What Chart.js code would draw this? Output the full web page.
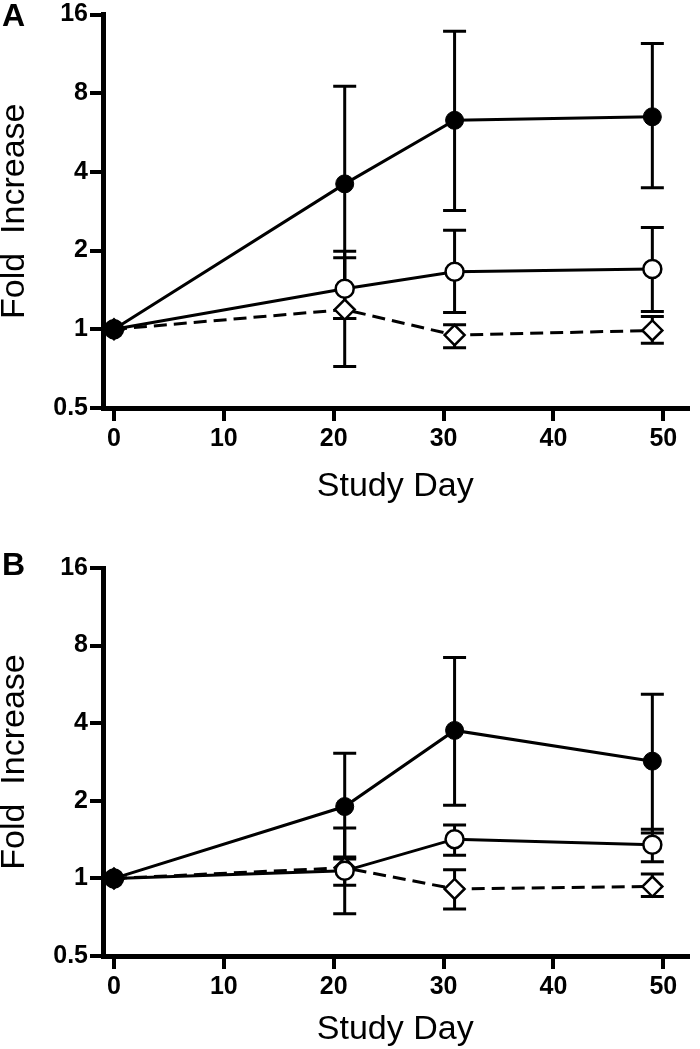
<!DOCTYPE html>
<html><head><meta charset="utf-8">
<script src="https://cdn.jsdelivr.net/npm/chart.js@4.4.1/dist/chart.umd.min.js"></script>
<style>
html,body{margin:0;padding:0;background:#fff;}
#wrap{position:relative;width:700px;height:1049px;overflow:hidden;}
.panel{position:absolute;left:0;width:700px;}
canvas{display:block;}
</style></head><body>
<div id="wrap">
<div class="panel" style="top:0;height:520px"><canvas id="cA" width="700" height="520"></canvas></div>
<div class="panel" style="top:520px;height:529px"><canvas id="cB" width="700" height="529"></canvas></div>
</div>
<script>
// ---- data ----
const days = [0, 21, 31, 49];
const xTicks = [0, 10, 20, 30, 40, 50];
const yTicks = [0.5, 1, 2, 4, 8, 16];
const xTitle = 'Study Day';
const yTitle = 'Fold  Increase';

// Panel A
const aFilled   = [1.0, 3.6, 6.3, 6.5];
const aFilledHi = [null, 8.5, 13.8, 12.4];
const aFilledLo = [null, 0.72, 2.85, 3.48];
const aOpen     = [1.0, 1.43, 1.66, 1.70];
const aOpenHi   = [null, 1.99, 2.39, 2.45];
const aOpenLo   = [null, 1.10, 1.16, 1.17];
const aDiam     = [1.0, 1.19, 0.95, 0.99];
const aDiamHi   = [null, 1.88, 1.04, 1.12];
const aDiamLo   = [null, 1.10, 0.85, 0.885];

// Panel B
const bFilled   = [1.0, 1.90, 3.75, 2.85];
const bFilledHi = [null, 3.06, 7.2, 5.18];
const bFilledLo = [null, 1.19, 1.92, 1.50];
const bOpen     = [1.0, 1.07, 1.42, 1.35];
const bOpenHi   = [null, 1.57, 1.61, 1.55];
const bOpenLo   = [null, 0.73, 1.23, 1.16];
const bDiam     = [1.0, 1.10, 0.91, 0.93];
const bDiamHi   = [null, 1.21, 1.08, 1.04];
const bDiamLo   = [null, 0.94, 0.76, 0.85];

const FAMILY = "'Liberation Sans', Arial, Helvetica, sans-serif";

const errorBars = {
  id: 'errorBars',
  beforeDatasetsDraw(chart) {
    const {ctx, scales: {x, y}} = chart;
    ctx.save();
    ctx.strokeStyle = '#000';
    ctx.lineWidth = 3;
    chart.data.datasets.forEach(ds => {
      ds.data.forEach((p, i) => {
        const hi = ds.errHi[i], lo = ds.errLo[i];
        if (hi == null) return;
        const px = x.getPixelForValue(p.x);
        const pH = y.getPixelForValue(hi), pL = y.getPixelForValue(lo);
        const w = 11.5;
        ctx.beginPath();
        ctx.moveTo(px, pH); ctx.lineTo(px, pL);
        ctx.moveTo(px - w, pH); ctx.lineTo(px + w, pH);
        ctx.moveTo(px - w, pL); ctx.lineTo(px + w, pL);
        ctx.stroke();
      });
    });
    ctx.restore();
  }
};

const panelLabel = {
  id: 'panelLabel',
  afterDraw(chart, args, opts) {
    const ctx = chart.ctx;
    ctx.save();
    ctx.fillStyle = '#000';
    ctx.font = "bold 32px " + FAMILY;
    ctx.textBaseline = 'alphabetic';
    ctx.textAlign = 'left';
    ctx.fillText(opts.text, opts.x, opts.y);
    ctx.restore();
  }
};

function pts(vals) { return days.map((d, i) => ({x: d, y: vals[i]})); }

function makeChart(id, cfg) {
  const tickFont = {family: FAMILY, size: 25, weight: 'bold', lineHeight: 1};
  const titleFont = {family: FAMILY, size: 34, weight: 'normal', lineHeight: 1};
  const gridOpts = {display: true, drawOnChartArea: false, drawTicks: true, tickLength: 13,
                    tickWidth: 4, tickColor: '#000', color: '#000', lineWidth: 4};
  const borderOpts = {display: true, color: '#000', width: 5};
  return new Chart(document.getElementById(id), {
    type: 'line',
    data: {
      datasets: [
        {data: pts(cfg.filled), errHi: cfg.filledHi, errLo: cfg.filledLo,
         borderColor: '#000', backgroundColor: '#000', borderWidth: 3,
         pointStyle: 'circle', pointRadius: 9, pointBackgroundColor: '#000',
         pointBorderColor: '#000', pointBorderWidth: 1, fill: false, tension: 0},
        {data: pts(cfg.open), errHi: cfg.openHi, errLo: cfg.openLo,
         borderColor: '#000', backgroundColor: '#fff', borderWidth: 3,
         pointStyle: 'circle', pointRadius: 9, pointBackgroundColor: '#fff',
         pointBorderColor: '#000', pointBorderWidth: 2.5, fill: false, tension: 0},
        {data: pts(cfg.diam), errHi: cfg.diamHi, errLo: cfg.diamLo,
         borderColor: '#000', backgroundColor: '#fff', borderWidth: 3, borderDash: [13, 7],
         pointStyle: 'rectRot', pointRadius: 10, pointBackgroundColor: '#fff',
         pointBorderColor: '#000', pointBorderWidth: 2.5, fill: false, tension: 0}
      ]
    },
    options: {
      responsive: false,
      animation: false,
      events: [],
      layout: {padding: {top: cfg.padTop, right: 3, bottom: 0, left: 0}},
      plugins: {
        legend: {display: false},
        tooltip: {enabled: false},
        panelLabel: {text: cfg.label, x: 2, y: cfg.labelY}
      },
      scales: {
        x: {
          type: 'linear', min: -1, max: 52.2,
          afterBuildTicks: s => { s.ticks = xTicks.map(v => ({value: v})); },
          afterFit: s => { s.height = cfg.xH; },
          grid: gridOpts, border: borderOpts,
          ticks: {color: '#000', font: tickFont, padding: 6, maxRotation: 0, autoSkip: false},
          title: {display: true, text: xTitle, color: '#000', font: titleFont,
                  padding: {top: 0, bottom: cfg.xTitlePad}}
        },
        y: {
          type: 'logarithmic', min: 0.5, max: 16,
          afterBuildTicks: s => { s.ticks = yTicks.map(v => ({value: v})); },
          afterFit: s => { s.width = 103; },
          grid: gridOpts, border: borderOpts,
          ticks: {color: '#000', font: tickFont, padding: 2, autoSkip: false,
                  callback: v => String(v)},
          title: {display: true, text: yTitle, color: '#000', font: titleFont,
                  padding: {top: -2, bottom: 0}}
        }
      }
    },
    plugins: [errorBars, panelLabel]
  });
}

makeChart('cA', {
  label: 'A', labelY: 26, padTop: 14, xH: 112, xTitlePad: 16,
  filled: aFilled, filledHi: aFilledHi, filledLo: aFilledLo,
  open: aOpen, openHi: aOpenHi, openLo: aOpenLo,
  diam: aDiam, diamHi: aDiamHi, diamLo: aDiamLo
});
makeChart('cB', {
  label: 'B', labelY: 55, padTop: 48, xH: 93, xTitlePad: 2,
  filled: bFilled, filledHi: bFilledHi, filledLo: bFilledLo,
  open: bOpen, openHi: bOpenHi, openLo: bOpenLo,
  diam: bDiam, diamHi: bDiamHi, diamLo: bDiamLo
});
</script>
</body></html>
